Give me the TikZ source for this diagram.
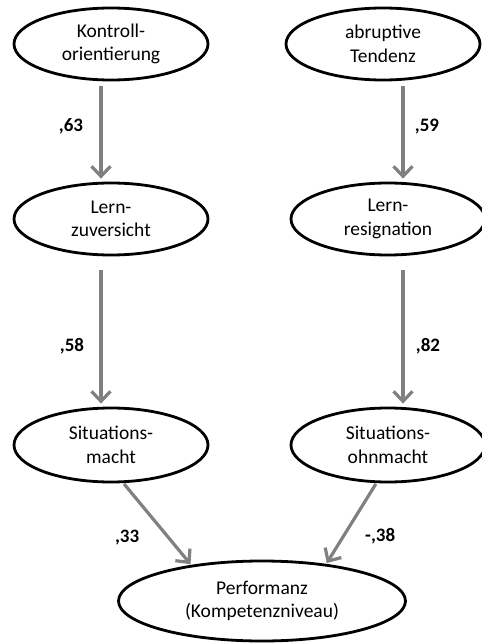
\documentclass[tikz,border=0pt]{standalone}
\usepackage{fontspec}
\setmainfont{Carlito}
\usetikzlibrary{arrows.meta, positioning, shapes.geometric}

\begin{document}
\begin{tikzpicture}[
        x=1pt, y=-1pt, on grid,
        >={Straight Barb[length=10pt,width=19pt]},
        construct/.style={ellipse, draw, line width=2.8pt, minimum width=194pt,
          minimum height=72pt, inner sep=0pt, align=center,
          font=\fontsize{19.5}{23.5}\selectfont},
        effect/.style={->, draw=gray, line width=3.2pt, shorten <=5pt, shorten >=3pt},
        weight/.style={font=\fontsize{19}{22}\selectfont\bfseries},
        ]
        \useasboundingbox (0,0) rectangle (481,644);

        \node[construct]      (kontr)                        at (111,44)  {Kontroll-\\orientierung};
        \node[construct]      (abrupt)                       at (383,44)  {abruptive\\Tendenz};
        \node[construct]      (zuvers) [below=175pt of kontr]             {Lern-\\zuversicht};
        \node[construct]      (resign) [right=277pt of zuvers]            {Lern-\\resignation};
        \node[construct, minimum height=74pt] (smacht) [below=226pt of zuvers] {Situations-\\macht};
        \node[construct, minimum height=74pt] (sohnm)  [right=277pt of smacht] {Situations-\\ohnmacht};
        \node[construct, minimum width=287pt, minimum height=80pt]
                              (perf)                         at (262,601) {Performanz\\(Kompetenzniveau)};

        \draw[effect] ([xshift=-10pt]kontr.south) -- ([xshift=-10pt]kontr.south |- zuvers.north)
          node[weight, pos=0.45, left=13pt] {,63};
        \draw[effect] ([xshift=20pt]abrupt.south) -- ([xshift=20pt]abrupt.south |- resign.north)
          node[weight, pos=0.45, right=7pt] {,59};
        \draw[effect, shorten <=14pt] ([xshift=-10pt]zuvers.south) -- ([xshift=-10pt]zuvers.south |- smacht.north)
          node[weight, pos=0.6, left=12pt] {,58};
        \draw[effect, shorten <=14pt] ([xshift=15pt]resign.south) -- ([xshift=15pt]resign.south |- sohnm.north)
          node[weight, pos=0.6, right=8pt] {,82};
        \draw[effect, shorten <=1pt, shorten >=1pt] (smacht.-72) -- (perf.153)
          node[weight, pos=0.66, left=24pt] {,33};
        \draw[effect, shorten <=1pt, shorten >=1pt] (sohnm.-107) -- (perf.30)
          node[weight, pos=0.66, right=17pt] {-,38};
      \end{tikzpicture}
\end{document}
